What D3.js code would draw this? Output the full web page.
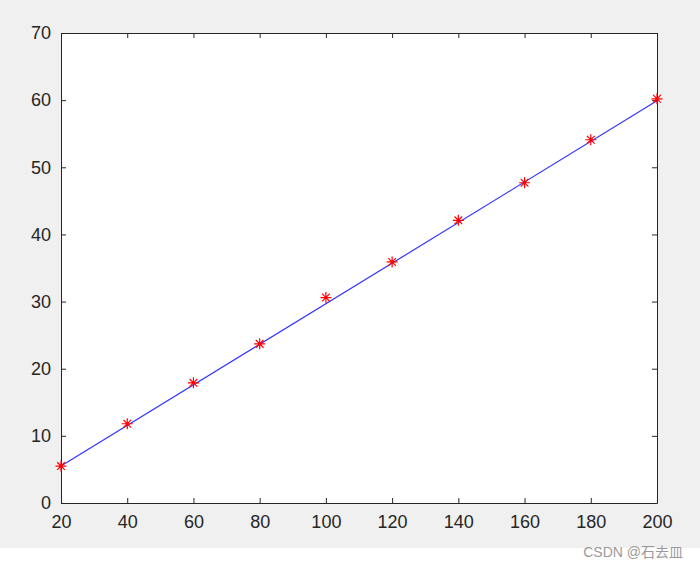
<!DOCTYPE html>
<html>
<head>
<meta charset="utf-8">
<script src="https://cdn.jsdelivr.net/npm/d3@7"></script>
<style>
  body { margin: 0; background: #fff; }
  svg text { font-family: "Liberation Sans", Arial, sans-serif; }
</style>
</head>
<body>
<div id="chart"></div>
<script>
// measured points (red stars)
var xVals = [20, 40, 60, 80, 100, 120, 140, 160, 180, 200];
var yVals = [5.5, 11.8, 17.9, 23.7, 30.6, 35.9, 42.1, 47.7, 54.1, 60.2];
// fitted line (blue), end points
var fitX = [20, 200];
var fitY = [5.5, 59.9];
var xTicks = [20, 40, 60, 80, 100, 120, 140, 160, 180, 200];
var yTicks = [0, 10, 20, 30, 40, 50, 60, 70];

var W = 700, H = 564;
var margin = {top: 33, right: 43, bottom: 61, left: 61};
var width = 657 - margin.left, height = 503 - margin.top;
var ink = "#262626";

var svg = d3.select("#chart").append("svg").attr("width", W).attr("height", H);

// figure background
svg.append("rect").attr("width", W).attr("height", 548).attr("fill", "#f0f0f0");

var g = svg.append("g").attr("transform", "translate(" + margin.left + "," + margin.top + ")");

var x = d3.scaleLinear().domain([20, 200]).range([0, width]);
var y = d3.scaleLinear().domain([0, 70]).range([height, 0]);

g.append("rect").attr("width", width).attr("height", height).attr("fill", "#fff");

// axes, ticks point inward
var xAxis = d3.axisBottom(x).tickValues(xTicks).tickSizeInner(-5).tickSizeOuter(0).tickPadding(12);
var yAxis = d3.axisLeft(y).tickValues(yTicks).tickSizeInner(-5).tickSizeOuter(0).tickPadding(10);
var xTop = d3.axisTop(x).tickValues(xTicks).tickSizeInner(-5).tickSizeOuter(0).tickFormat("");
var yRight = d3.axisRight(y).tickValues(yTicks).tickSizeInner(-5).tickSizeOuter(0).tickFormat("");

function style(sel) {
  sel.select(".domain").attr("stroke", ink).attr("stroke-width", 1);
  sel.selectAll(".tick line").attr("stroke", ink);
  sel.selectAll(".tick text").attr("fill", ink).style("font-size", "18px");
}

g.append("g").attr("transform", "translate(0," + height + ")").call(xAxis).call(style)
  .selectAll(".tick text").attr("dy", "0.71em");
g.append("g").call(yAxis).call(style);
g.append("g").call(xTop).call(style);
g.append("g").attr("transform", "translate(" + width + ",0)").call(yRight).call(style);

// fitted line
var line = d3.line().x(function (d) { return x(d[0]); }).y(function (d) { return y(d[1]); });
g.append("path")
  .datum(d3.zip(fitX, fitY))
  .attr("d", line)
  .attr("fill", "none")
  .attr("stroke", "#0000ff")
  .attr("stroke-width", 1.2)
  .attr("stroke-opacity", 0.8);

// star markers
var r = 5.5;
var star = "M" + (-r) + ",0H" + r + "M0," + (-r) + "V" + r +
  "M" + (-r * 0.7) + "," + (-r * 0.7) + "L" + (r * 0.7) + "," + (r * 0.7) +
  "M" + (-r * 0.7) + "," + (r * 0.7) + "L" + (r * 0.7) + "," + (-r * 0.7);
g.selectAll(".pt")
  .data(d3.zip(xVals, yVals))
  .enter().append("path")
  .attr("class", "pt")
  .attr("transform", function (d) { return "translate(" + x(d[0]) + "," + y(d[1]) + ")"; })
  .attr("d", star)
  .attr("stroke", "#ff0000")
  .attr("stroke-width", 1.2)
  .attr("fill", "none");

// watermark
svg.append("text")
  .attr("x", 683).attr("y", 557)
  .attr("text-anchor", "end")
  .attr("fill", "#9a9a9a")
  .style("font-family", "'Liberation Sans', 'Noto Sans CJK SC', sans-serif")
  .style("font-size", "14px")
  .text("CSDN @石去皿");
</script>
</body>
</html>
